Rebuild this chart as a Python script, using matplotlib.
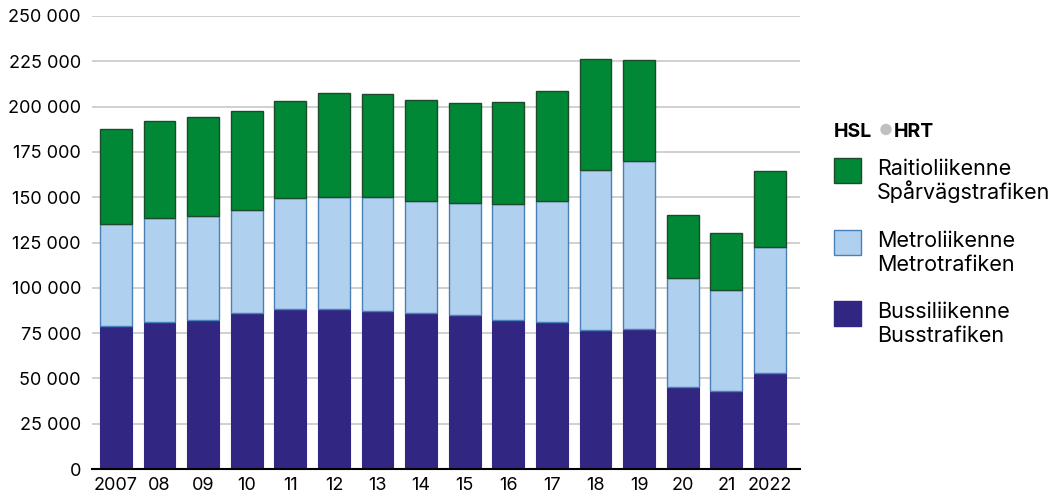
import numpy as np
import matplotlib.pyplot as plt

years = ['2007', '08', '09', '10', '11', '12', '13', '14', '15', '16', '17', '18', '19', '20', '21', '2022']
bus = [79000, 81000, 82200, 86000, 88300, 88300, 87200, 86000, 85000, 82200, 81000, 76700, 77300, 45300, 43000, 53000]
metro = [56300, 57400, 57400, 56900, 61300, 61800, 62900, 61900, 61800, 64000, 66900, 88300, 92700, 60100, 55800, 69500]
tram = [52300, 53600, 54700, 54700, 53500, 57400, 56900, 55700, 55200, 56300, 60700, 61300, 55700, 34800, 31400, 42000]

c_bus = '#312783'
c_metro = '#b0d0ef'
c_tram = '#008837'

plt.rcParams['font.family'] = ['Inter', 'DejaVu Sans']

fig = plt.figure(figsize=(10.62, 4.95), dpi=100)
ax = fig.add_axes([92/1062, 1-469/495, 708/1062, 453/495])

x = np.arange(len(years))
bus = np.array(bus)
metro = np.array(metro)
tram = np.array(tram)
w = 0.73
ax.bar(x, bus, w, color=c_bus, edgecolor=c_bus, linewidth=0.8, zorder=3)
ax.bar(x, metro, w, bottom=bus, color=c_metro, edgecolor='#4a80b8', linewidth=1.0, zorder=3)
ax.bar(x, tram, w, bottom=bus+metro, color=c_tram, edgecolor='#1e4a2c', linewidth=1.0, zorder=3)

ax.set_ylim(0, 250000)
ax.set_xlim(-0.55, 15.69)
yt = np.arange(0, 250001, 25000)
ax.set_yticks(yt)
ax.set_yticklabels([f'{v:,}'.replace(',', ' ') for v in yt], fontsize=13)
ax.set_xticks(x)
ax.set_xticklabels(years, fontsize=13)
ax.tick_params(length=0, pad=8)
ax.tick_params(axis='x', pad=6)
ax.grid(axis='y', color='#c8c8c8', linewidth=1.2, zorder=0)
for s in ['top', 'right', 'left']:
    ax.spines[s].set_visible(False)
ax.spines['bottom'].set_color('black')
ax.spines['bottom'].set_linewidth(1.5)
ax.spines['bottom'].set_zorder(4)

# legend
def fy(p):
    return 1 - p/495

fig.text(834/1062, fy(137), 'HSL', fontsize=14, fontweight='bold', va='baseline', ha='left')
fig.text(886/1062, fy(130), '\u25CF', fontsize=11, color='#c0c0c0', va='center', ha='center')
fig.text(894/1062, fy(137), 'HRT', fontsize=14, fontweight='bold', va='baseline', ha='left')

items = [(c_tram, '#1e4a2c', 'Raitioliikenne', 'Spårvägstrafiken', 158),
         (c_metro, '#4a80b8', 'Metroliikenne', 'Metrotrafiken', 230),
         (c_bus, c_bus, 'Bussiliikenne', 'Busstrafiken', 301)]
for fc, ec, l1, l2, top in items:
    fig.patches.append(plt.Rectangle((834/1062, fy(top+25)), 27/1062, 25/495,
                                     facecolor=fc, edgecolor=ec, linewidth=1.0,
                                     transform=fig.transFigure, figure=fig))
    fig.text(877/1062, fy(top+17), l1, fontsize=15.5, va='baseline', ha='left')
    fig.text(877/1062, fy(top+41), l2, fontsize=15.5, va='baseline', ha='left')

fig.savefig('out.png', dpi=100)
